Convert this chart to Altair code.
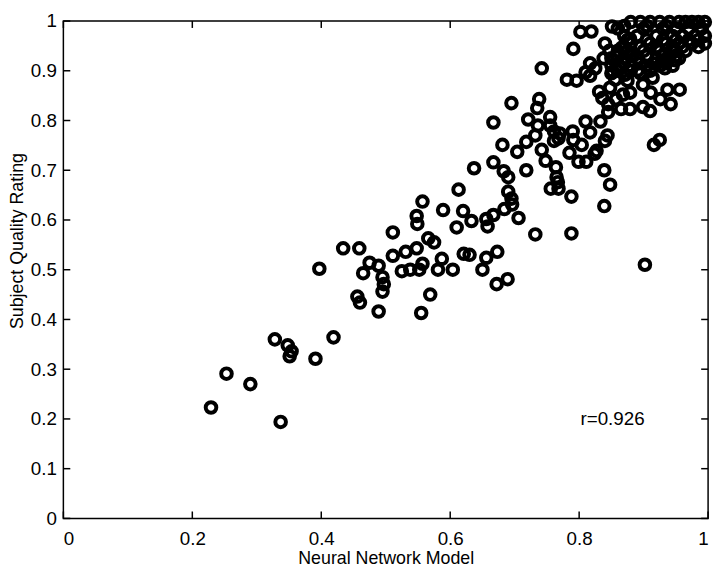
import altair as alt
import pandas as pd

# Neural Network Model prediction (x) vs Subject Quality Rating (y)
x_vals = [
    0.229, 0.253, 0.290, 0.328, 0.348, 0.354, 0.351, 0.337, 0.391, 0.419,
    0.397, 0.434, 0.459, 0.475, 0.489, 0.465, 0.495, 0.495, 0.456, 0.460,
    0.489, 0.497,
    0.637, 0.667, 0.683, 0.690, 0.718, 0.748, 0.764, 0.765, 0.756, 0.768,
    0.788, 0.613, 0.690, 0.695, 0.696, 0.684, 0.667, 0.656, 0.658, 0.633,
    0.620, 0.610, 0.589, 0.557, 0.548, 0.549, 0.706, 0.732, 0.788, 0.511,
    0.566, 0.575, 0.511, 0.531, 0.548, 0.525, 0.538, 0.557, 0.552, 0.587,
    0.581, 0.604, 0.621, 0.630, 0.656, 0.673, 0.650, 0.569, 0.555, 0.672,
    0.689,
    0.742, 0.695, 0.738, 0.735, 0.667, 0.721, 0.736, 0.732, 0.718, 0.704,
    0.681, 0.742,
    0.791, 0.802, 0.819, 0.851, 0.847, 0.817, 0.810, 0.817, 0.781, 0.796,
    0.850, 0.755, 0.755, 0.810, 0.833, 0.817, 0.790, 0.791, 0.770, 0.761,
    0.804, 0.827, 0.844, 0.840, 0.785, 0.799, 0.811, 0.824, 0.767, 0.839,
    0.848, 0.839, 0.848, 0.831, 0.836, 0.845, 0.857, 0.845, 0.865, 0.879,
    0.879, 0.899, 0.910, 0.911, 0.926, 0.937, 0.956, 0.942, 0.925, 0.916,
    0.902, 0.761, 0.768,
    0.866, 0.879, 0.862, 0.871, 0.856, 0.883, 0.868, 0.891, 0.899, 0.914,
    0.933, 0.949,
    0.880, 0.895, 0.910, 0.925, 0.940, 0.955, 0.965, 0.975, 0.985, 0.995,
    0.860, 0.900, 0.930, 0.950, 0.970, 0.990,
    0.870, 0.890, 0.920, 0.945, 0.960, 0.980, 0.995,
    0.840, 0.880, 0.910, 0.935, 0.955, 0.975, 0.995,
    0.860, 0.875, 0.900, 0.925, 0.950, 0.965,
    0.850, 0.870, 0.890, 0.920, 0.940, 0.955,
    0.880, 0.905, 0.925, 0.945,
    0.850, 0.895,
    0.875,
    0.870, 0.905, 0.935,
    0.875, 0.905, 0.930, 0.950, 0.970, 0.985,
    0.870, 0.895, 0.920, 0.945, 0.960, 0.985,
    0.860, 0.880, 0.905, 0.930, 0.950,
    0.870, 0.895, 0.915, 0.935,
    0.860, 0.880, 0.910,
    0.825, 0.838, 0.852,
]
y_vals = [
    0.223, 0.291, 0.270, 0.360, 0.348, 0.336, 0.326, 0.194, 0.321, 0.364,
    0.502, 0.543, 0.543, 0.514, 0.508, 0.493, 0.485, 0.456, 0.446, 0.434,
    0.416, 0.471,
    0.704, 0.716, 0.698, 0.686, 0.700, 0.719, 0.706, 0.686, 0.663, 0.663,
    0.647, 0.661, 0.657, 0.643, 0.631, 0.622, 0.610, 0.602, 0.587, 0.598,
    0.618, 0.585, 0.620, 0.637, 0.608, 0.592, 0.604, 0.571, 0.573, 0.575,
    0.563, 0.555, 0.528, 0.536, 0.543, 0.497, 0.500, 0.512, 0.500, 0.522,
    0.500, 0.500, 0.532, 0.530, 0.524, 0.536, 0.500, 0.450, 0.413, 0.471,
    0.481,
    0.905, 0.835, 0.843, 0.825, 0.796, 0.802, 0.790, 0.770, 0.757, 0.737,
    0.751, 0.741,
    0.944, 0.978, 0.979, 0.989, 0.940, 0.915, 0.897, 0.890, 0.882, 0.880,
    0.911, 0.807, 0.790, 0.798, 0.798, 0.776, 0.778, 0.761, 0.774, 0.759,
    0.751, 0.739, 0.770, 0.759, 0.735, 0.717, 0.717, 0.733, 0.676, 0.700,
    0.671, 0.628, 0.866, 0.858, 0.845, 0.833, 0.843, 0.817, 0.823, 0.856,
    0.823, 0.827, 0.819, 0.856, 0.843, 0.862, 0.862, 0.833, 0.761, 0.751,
    0.510, 0.778, 0.764,
    0.946, 0.964, 0.911, 0.892, 0.882, 0.931, 0.852, 0.901, 0.872, 0.886,
    0.905, 0.921,
    0.998, 0.998, 0.998, 0.998, 0.998, 0.998, 0.998, 0.998, 0.998, 0.998,
    0.985, 0.985, 0.985, 0.985, 0.985, 0.985,
    0.970, 0.970, 0.970, 0.970, 0.970, 0.970, 0.970,
    0.955, 0.955, 0.955, 0.955, 0.955, 0.955, 0.955,
    0.940, 0.940, 0.940, 0.940, 0.940, 0.940,
    0.925, 0.925, 0.925, 0.925, 0.925, 0.925,
    0.910, 0.910, 0.910, 0.910,
    0.895, 0.895,
    0.880,
    0.990, 0.990, 0.990,
    0.962, 0.962, 0.962, 0.962, 0.962, 0.962,
    0.948, 0.948, 0.948, 0.948, 0.948, 0.948,
    0.930, 0.930, 0.930, 0.930, 0.930,
    0.915, 0.915, 0.915, 0.915,
    0.900, 0.900, 0.900,
    0.905, 0.925, 0.898,
]

x_ticks = [0, 0.2, 0.4, 0.6, 0.8, 1]
y_ticks = [0, 0.1, 0.2, 0.3, 0.4, 0.5, 0.6, 0.7, 0.8, 0.9, 1]
annotation = ["r=0.926"]
annotation_x = [0.802]
annotation_y = [0.200]

df = pd.DataFrame({"x": x_vals, "y": y_vals})
xt = pd.DataFrame({"x": x_ticks})
yt = pd.DataFrame({"y": y_ticks})
ann = pd.DataFrame({"x": annotation_x, "y": annotation_y, "t": annotation})

W, H = 652, 503
FONT = "Liberation Sans"
xs = alt.Scale(domain=[0, 1], nice=False, zero=False)
ys = alt.Scale(domain=[0, 1], nice=False, zero=False)

ax_x = alt.Axis(values=x_ticks, format="~g", title="Neural Network Model",
                labelPadding=11, titleY=41, titleBaseline="middle")
ax_y = alt.Axis(values=y_ticks, format="~g", title="Subject Quality Rating",
                labelPadding=7, titleX=-46, titleY=222, titleBaseline="middle")
X = alt.X("x:Q", scale=xs, axis=ax_x)
Y = alt.Y("y:Q", scale=ys, axis=ax_y)

points = alt.Chart(df).mark_point(
    shape="circle", filled=False, color="black", size=115, strokeWidth=4, opacity=1
).encode(x=X, y=Y)

tick_style = dict(color="black", strokeWidth=1.5)
bottom_ticks = alt.Chart(xt).mark_rule(**tick_style).encode(
    x=X, y=alt.value(H), y2=alt.value(H - 7))
top_ticks = alt.Chart(xt).mark_rule(**tick_style).encode(
    x=X, y=alt.value(0), y2=alt.value(7))
left_ticks = alt.Chart(yt).mark_rule(**tick_style).encode(
    y=Y, x=alt.value(0), x2=alt.value(7))
right_ticks = alt.Chart(yt).mark_rule(**tick_style).encode(
    y=Y, x=alt.value(W), x2=alt.value(W - 7))

text = alt.Chart(ann).mark_text(
    align="left", baseline="middle", fontSize=19, font=FONT, color="black"
).encode(x=X, y=Y, text="t:N")

chart = alt.layer(
    points, bottom_ticks, top_ticks, left_ticks, right_ticks, text
).properties(
    width=W, height=H,
    padding={"left": 56, "top": 10, "right": 8, "bottom": 50},
    autosize=alt.AutoSizeParams(type="none"),
    background="white",
).configure_view(
    stroke="black", strokeWidth=1.5
).configure_axis(
    grid=False, domain=False, ticks=False,
    labelFont=FONT, labelFontSize=19, labelColor="black",
    titleFont=FONT, titleFontSize=18, titleFontWeight="normal", titleColor="black",
)

chart.save("out.html", embed_options={"renderer": "svg", "actions": False})
